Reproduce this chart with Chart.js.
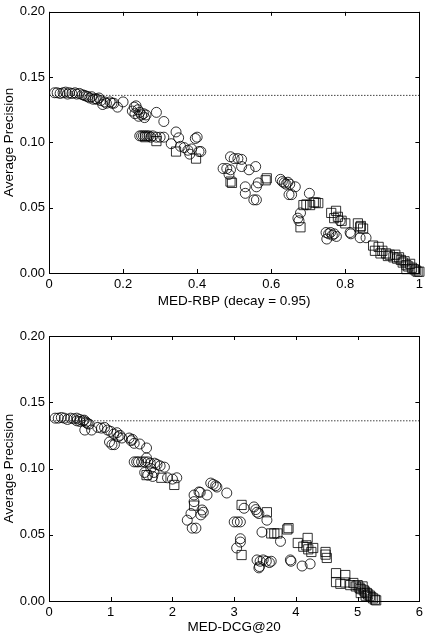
<!DOCTYPE html>
<html>
<head>
<meta charset="utf-8">
<script src="https://cdn.jsdelivr.net/npm/chart.js@4.4.0/dist/chart.umd.min.js"></script>
<style>
  html, body { margin: 0; padding: 0; background: #fff; }
  #wrap { position: relative; width: 427px; height: 637px; }
  canvas { position: absolute; left: 0; }
  #c1 { top: 0; }
  #c2 { top: 320px; }
</style>
</head>
<body>
<div id="wrap">
  <canvas id="c1" width="427" height="320"></canvas>
  <canvas id="c2" width="427" height="317"></canvas>
</div>
<script>
// ---------- DATA ----------
const baselineAP = 0.136;

// Top panel: MED-RBP (decay = 0.95) vs Average Precision
const rbpCircles = [
  [0.015,0.138],[0.022,0.138],[0.03,0.1375],[0.038,0.138],[0.045,0.1385],[0.05,0.137],[0.055,0.138],[0.062,0.1375],
  [0.07,0.138],[0.075,0.137],[0.082,0.1375],[0.09,0.1365],[0.095,0.136],[0.1,0.1355],[0.105,0.135],[0.11,0.134],
  [0.115,0.135],[0.12,0.133],[0.125,0.1335],[0.13,0.133],[0.135,0.134],[0.14,0.132],[0.145,0.129],[0.15,0.131],
  [0.155,0.13],[0.165,0.131],[0.17,0.13],[0.175,0.13],[0.185,0.127],[0.2,0.131],
  [0.225,0.124],[0.23,0.127],[0.232,0.122],[0.235,0.128],[0.24,0.125],[0.242,0.12],[0.245,0.123],[0.25,0.121],
  [0.255,0.122],[0.258,0.119],[0.262,0.121],[0.29,0.123],[0.31,0.116],
  [0.245,0.105],[0.25,0.105],[0.255,0.105],[0.26,0.105],[0.265,0.105],[0.27,0.105],[0.275,0.104],[0.28,0.105],
  [0.29,0.104],[0.3,0.104],[0.31,0.104],
  [0.343,0.108],[0.35,0.1035],[0.33,0.099],[0.355,0.097],[0.365,0.096],[0.375,0.094],[0.385,0.095],[0.395,0.103],
  [0.4,0.104],[0.405,0.093],[0.41,0.093],[0.38,0.091],
  [0.49,0.089],[0.5,0.0876],[0.51,0.0876],[0.52,0.087],[0.47,0.080],[0.48,0.080],[0.49,0.079],[0.52,0.0815],
  [0.54,0.079],[0.558,0.0815],[0.486,0.0755],[0.53,0.066],[0.53,0.061],[0.56,0.066],[0.565,0.069],[0.553,0.056],[0.56,0.056],
  [0.625,0.0717],[0.63,0.070],[0.635,0.069],[0.64,0.068],[0.645,0.0695],[0.65,0.068],[0.665,0.066],[0.648,0.060],
  [0.655,0.060],[0.703,0.061],[0.679,0.046],[0.672,0.042],[0.675,0.040],
  [0.748,0.031],[0.755,0.030],[0.76,0.031],[0.765,0.029],[0.77,0.030],[0.75,0.026],[0.776,0.028],[0.813,0.031],
  [0.815,0.030],[0.84,0.027],[0.856,0.027],[0.786,0.040]
];
const rbpSquares = [
  [0.26,0.104],[0.29,0.101],[0.343,0.093],[0.397,0.0876],[0.49,0.070],[0.494,0.069],[0.588,0.0725],[0.585,0.071],
  [0.687,0.052],[0.695,0.0525],[0.705,0.052],[0.715,0.054],[0.72,0.054],[0.727,0.0535],[0.679,0.035],
  [0.762,0.046],[0.775,0.0476],[0.77,0.042],[0.78,0.043],[0.79,0.040],[0.80,0.038],[0.834,0.038],[0.84,0.035],
  [0.848,0.034],[0.842,0.036],[0.875,0.021],[0.88,0.017],[0.89,0.020],[0.895,0.015],[0.9,0.017],[0.91,0.015],
  [0.915,0.013],[0.92,0.014],[0.93,0.012],[0.935,0.014],[0.94,0.011],[0.945,0.012],[0.95,0.010],[0.955,0.008],
  [0.96,0.009],[0.965,0.006],[0.97,0.005],[0.975,0.007],[0.98,0.004],[0.985,0.003],[0.99,0.002],[0.995,0.001],
  [1.0,0.001],[0.965,0.003]
];

// Bottom panel: MED-DCG@20 vs Average Precision
const dcgCircles = [
  [0.1,0.138],[0.15,0.138],[0.2,0.1385],[0.25,0.138],[0.3,0.137],[0.35,0.138],[0.4,0.1375],[0.45,0.138],
  [0.5,0.137],[0.55,0.136],[0.6,0.135],[0.62,0.134],[0.65,0.1335],[0.58,0.129],[0.69,0.129],[0.5,0.1355],
  [0.45,0.136],[0.57,0.1365],
  [0.79,0.131],[0.85,0.1305],[0.9,0.131],[0.95,0.129],[1.0,0.128],[1.05,0.126],[1.1,0.127],[1.12,0.124],
  [1.15,0.125],[1.18,0.123],[0.98,0.120],[1.02,0.118],[1.06,0.118],[1.3,0.123],[1.33,0.121],[1.38,0.119],
  [1.47,0.1185],[1.58,0.1155],[1.35,0.122],
  [1.38,0.105],[1.42,0.105],[1.45,0.105],[1.5,0.105],[1.55,0.105],[1.6,0.105],[1.64,0.104],[1.58,0.108],
  [1.71,0.104],[1.75,0.103],[1.8,0.102],[1.87,0.101],[1.55,0.097],[1.6,0.095],[1.68,0.094],[1.7,0.097],
  [1.92,0.093],[2.07,0.093],[2.0,0.092],[1.65,0.100],
  [2.62,0.089],[2.66,0.088],[2.7,0.087],[2.72,0.086],[2.88,0.0815],[2.35,0.080],[2.43,0.0823],[2.45,0.082],
  [2.56,0.080],[2.35,0.075],[2.48,0.0687],[2.3,0.066],[2.24,0.061],[2.32,0.055],[2.38,0.055],[2.46,0.065],[2.5,0.067],
  [3.16,0.070],[3.32,0.071],[3.35,0.069],[3.37,0.067],[3.4,0.066],[3.53,0.061],[3.0,0.0597],[3.05,0.0597],
  [3.1,0.0597],[3.45,0.052],[3.75,0.045],[3.1,0.0445],[3.1,0.047],[3.04,0.040],[3.37,0.031],[3.42,0.030],
  [3.47,0.031],[3.52,0.030],[3.57,0.029],[3.6,0.030],[3.4,0.025],[3.41,0.026],[3.91,0.031],[3.92,0.030],
  [4.1,0.0264],[4.23,0.028]
];
const dcgSquares = [
  [1.58,0.095],[1.82,0.093],[2.03,0.0876],[2.35,0.072],[3.12,0.0725],[3.53,0.067],[3.6,0.051],[3.65,0.051],
  [3.7,0.051],[3.86,0.054],[3.88,0.055],[4.03,0.0438],[4.19,0.0476],[4.12,0.041],[4.17,0.042],[4.2,0.039],
  [4.28,0.040],[4.25,0.037],[4.48,0.037],[4.48,0.035],[4.5,0.0325],[3.12,0.0347],[4.65,0.021],[4.8,0.0196],
  [4.65,0.0143],[4.72,0.013],[4.8,0.014],[4.88,0.012],[4.93,0.0136],[4.97,0.011],[5.0,0.012],[5.03,0.010],
  [5.05,0.009],[5.08,0.011],[5.1,0.008],[5.12,0.007],[5.15,0.006],[5.17,0.005],[5.2,0.004],[5.22,0.003],
  [5.25,0.002],[5.28,0.001],[5.3,0.0005],[5.05,0.006],[5.13,0.004]
];

const yTicks = [0, 0.05, 0.10, 0.15, 0.20];
const xTicksRBP = [0, 0.2, 0.4, 0.6, 0.8, 1];
const xTicksDCG = [0, 1, 2, 3, 4, 5, 6];
const yTitle = 'Average Precision';
const xTitleRBP = 'MED-RBP (decay = 0.95)';
const xTitleDCG = 'MED-DCG@20';

// ---------- RENDER ----------
const FONT = "'Liberation Sans', Arial, sans-serif";
const toXY = arr => arr.map(p => ({x: p[0], y: p[1]}));

const frameTicks = {
  id: 'frameTicks',
  afterDraw(chart) {
    const {ctx, chartArea: a, scales: {x, y}} = chart;
    ctx.save();
    ctx.strokeStyle = '#000';
    ctx.lineWidth = 1;
    ctx.strokeRect(Math.round(a.left) + 0.5, Math.round(a.top) + 0.5,
                   Math.round(a.right - a.left), Math.round(a.bottom - a.top));
    const L = 4;
    ctx.beginPath();
    x.ticks.forEach(t => {
      const px = Math.round(x.getPixelForValue(t.value)) + 0.5;
      ctx.moveTo(px, a.bottom); ctx.lineTo(px, a.bottom - L);
      ctx.moveTo(px, a.top); ctx.lineTo(px, a.top + L);
    });
    y.ticks.forEach(t => {
      const py = Math.round(y.getPixelForValue(t.value)) + 0.5;
      ctx.moveTo(a.left, py); ctx.lineTo(a.left + L, py);
      ctx.moveTo(a.right, py); ctx.lineTo(a.right - L, py);
    });
    ctx.stroke();
    ctx.restore();
  }
};

function makeChart(canvasId, circles, squares, xTicks, xMax, xTitle, pad, xAxisH, xTitlePadBottom, xFmt) {
  return new Chart(document.getElementById(canvasId), {
    type: 'scatter',
    data: {
      datasets: [
        {
          type: 'line',
          data: [{x: 0, y: baselineAP}, {x: xMax, y: baselineAP}],
          borderColor: '#444',
          borderWidth: 1,
          borderDash: [1.5, 1.5],
          pointRadius: 0,
          fill: false,
          order: 3
        },
        {
          data: toXY(circles),
          pointStyle: 'circle',
          pointRadius: 5,
          pointBorderWidth: 1,
          pointBorderColor: 'rgba(0,0,0,0.8)',
          pointBackgroundColor: 'rgba(0,0,0,0)',
          clip: false,
          order: 2
        },
        {
          data: toXY(squares),
          pointStyle: 'rect',
          pointRadius: 6.5,
          pointBorderWidth: 1,
          pointBorderColor: 'rgba(0,0,0,0.8)',
          pointBackgroundColor: 'rgba(0,0,0,0)',
          clip: false,
          order: 1
        }
      ]
    },
    options: {
      responsive: false,
      animation: false,
      events: [],
      layout: { padding: pad },
      plugins: { legend: { display: false }, tooltip: { enabled: false } },
      scales: {
        x: {
          type: 'linear',
          min: 0, max: xMax,
          afterBuildTicks: s => { s.ticks = xTicks.map(v => ({value: v})); },
          afterFit: s => { s.height = xAxisH; },
          grid: { display: false, drawTicks: false },
          border: { display: false },
          ticks: { color: '#000', font: { family: FONT, size: 13 }, padding: 4, maxRotation: 0,
                   callback: xFmt },
          title: { display: true, text: xTitle, color: '#000',
                   font: { family: FONT, size: 13.5 }, padding: { top: 0, bottom: xTitlePadBottom } }
        },
        y: {
          type: 'linear',
          min: 0, max: 0.2,
          afterBuildTicks: s => { s.ticks = yTicks.map(v => ({value: v})); },
          afterFit: s => { s.width = 49; },
          grid: { display: false, drawTicks: false },
          border: { display: false },
          ticks: { color: '#000', font: { family: FONT, size: 13 }, padding: 4,
                   callback: v => Number(v).toFixed(2) },
          title: { display: true, text: yTitle, color: '#000',
                   font: { family: FONT, size: 13.5 }, padding: { top: 1, bottom: 0 } }
        }
      }
    },
    plugins: [frameTicks]
  });
}

makeChart('c1', rbpCircles, rbpSquares, xTicksRBP, 1, xTitleRBP,
          { top: 8, right: 5, bottom: 0, left: 0 }, 47, 11, v => String(v));
makeChart('c2', dcgCircles, dcgSquares, xTicksDCG, 6, xTitleDCG,
          { top: 16, right: 5, bottom: 0, left: 0 }, 36, 2, v => String(v));
</script>
</body>
</html>
